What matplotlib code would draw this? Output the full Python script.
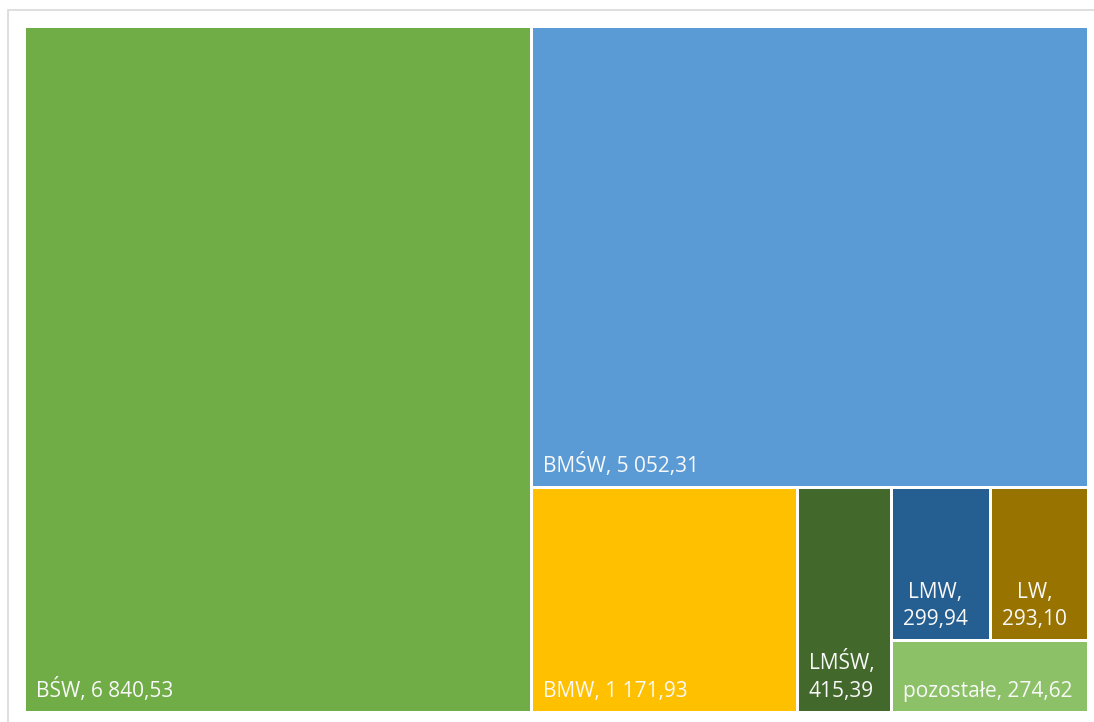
import matplotlib
matplotlib.use('Agg')
import matplotlib.pyplot as plt
from matplotlib.patches import Rectangle

names = ['BŚW', 'BMŚW', 'BMW', 'LMŚW', 'LMW', 'LW', 'pozostałe']
values = [6840.53, 5052.31, 1171.93, 415.39, 299.94, 293.10, 274.62]
colors = ['#70AD47', '#5B9BD5', '#FFC000', '#43682B', '#255E91', '#997300', '#8CC168']

# nesting of the tiles, orientation alternates: columns, rows, columns, ...
tree = [0, [1, [2, 3, [[4, 5], 6]]]]

W, H = 1064.0, 686.0   # plot area in pixels
gap = 1.5


def total(node):
    if isinstance(node, int):
        return values[node]
    return sum(total(c) for c in node)


def place(node, x, y, w, h, cols, out):
    if isinstance(node, int):
        out[node] = (x, y, w, h)
        return
    t = total(node)
    for c in node:
        f = total(c) / t
        if cols:
            place(c, x, y, w * f, h, not cols, out)
            x += w * f
        else:
            place(c, x, y, w, h * f, not cols, out)
            y += h * f


rects = {}
place(tree, 0, 0, W, H, True, rects)

fig = plt.figure(figsize=(10.94, 7.22), dpi=100)
fw, fh = 1094.0, 722.0
x0, y0 = 24 - gap, 26 - gap
ax = fig.add_axes([x0 / fw, 1 - (y0 + H + 2 * gap) / fh, (W + 2 * gap) / fw, (H + 2 * gap) / fh])
ax.set_xlim(-gap, W + gap)
ax.set_ylim(H + gap, -gap)
ax.axis('off')

# chart area border
fig.patches.append(Rectangle((8 / fw, -0.01), 1.01, 1 - 10 / fh + 0.01, transform=fig.transFigure,
                             fill=False, edgecolor='#D9D9D9', linewidth=1.2, clip_on=False))

fig.canvas.draw()
renderer = fig.canvas.get_renderer()
pad = 10
for i, (x, y, w, h) in rects.items():
    ax.add_patch(Rectangle((x + gap, y + gap), w - 2 * gap, h - 2 * gap,
                           facecolor=colors[i], edgecolor='none'))
    val = f'{values[i]:,.2f}'.replace(',', ' ').replace('.', ',')
    label = f'{names[i]}, {val}'
    t = ax.text(x + gap + pad, y + h - gap - 9, label, color='#F8F8F8', fontsize=15,
                family='Open Sans', ha='left', va='bottom', multialignment='center',
                linespacing=1.4)
    if t.get_window_extent(renderer).width > w - 2 * pad:
        t.set_text(label.replace(', ', ',\n'))

fig.savefig('out.png', dpi=100)
